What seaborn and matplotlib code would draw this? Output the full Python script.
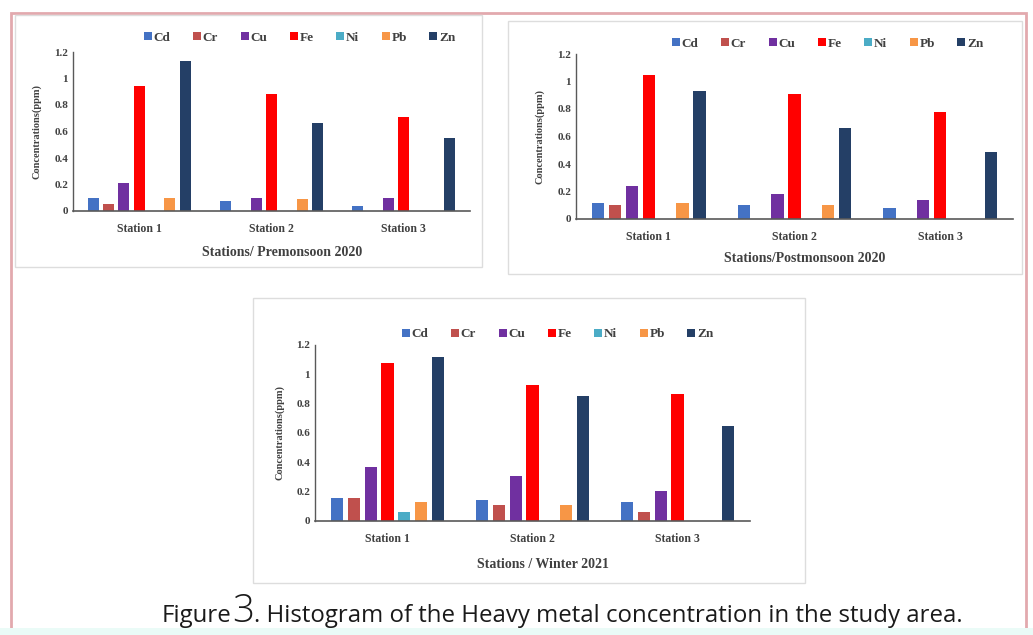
import numpy as np
import pandas as pd
import matplotlib
matplotlib.use("Agg")
import matplotlib.pyplot as plt
from matplotlib.patches import Rectangle
from matplotlib.ticker import FuncFormatter
import seaborn as sns

# data
stations = ["Station 1", "Station 2", "Station 3"]
metals = ["Cd", "Cr", "Cu", "Fe", "Ni", "Pb", "Zn"]
metal_colors = ["#4472C4", "#C0504D", "#7030A0", "#FF0000", "#4BACC6", "#F79646", "#243F66"]

# one row per metal, one column per station
premonsoon_2020 = [
    [0.10, 0.073, 0.038],   # Cd
    [0.053, 0.0, 0.0],      # Cr
    [0.215, 0.10, 0.10],    # Cu
    [0.94, 0.88, 0.71],     # Fe
    [0.0, 0.0, 0.0],        # Ni
    [0.10, 0.093, 0.0],     # Pb
    [1.13, 0.665, 0.553],   # Zn
]
postmonsoon_2020 = [
    [0.117, 0.10, 0.078],
    [0.10, 0.0, 0.0],
    [0.238, 0.18, 0.138],
    [1.05, 0.91, 0.777],
    [0.0, 0.0, 0.0],
    [0.117, 0.10, 0.0],
    [0.934, 0.665, 0.49],
]
winter_2021 = [
    [0.159, 0.146, 0.128],
    [0.159, 0.107, 0.059],
    [0.369, 0.307, 0.207],
    [1.08, 0.93, 0.865],
    [0.059, 0.0, 0.0],
    [0.128, 0.107, 0.0],
    [1.12, 0.85, 0.645],
]
y_ticks = [0, 0.2, 0.4, 0.6, 0.8, 1.0, 1.2]

W, H = 1033, 635
SERIF = "Liberation Serif"
GREY = "#404040"


def long_frame(values):
    rows = []
    for metal, vals in zip(metals, values):
        for st, v in zip(stations, vals):
            rows.append({"Station": st, "Metal": metal, "Conc": v})
    return pd.DataFrame(rows)


def px_axes(fig, x0, y0, x1, y1):
    # pixel box (top-left origin) -> figure fraction axes
    return fig.add_axes([x0 / W, 1 - y1 / H, (x1 - x0) / W, (y1 - y0) / H])


def px_box(fig, x0, y0, x1, y1, color, lw=1.0):
    fig.patches.append(Rectangle((x0 / W, 1 - y1 / H), (x1 - x0) / W, (y1 - y0) / H,
                                 transform=fig.transFigure, fill=False,
                                 edgecolor=color, linewidth=lw))


def draw_panel(fig, values, box, xlabel, ylab_x, xlab_y, leg_xy):
    ax = px_axes(fig, *box)
    df = long_frame(values)
    sns.barplot(data=df, x="Station", y="Conc", hue="Metal", hue_order=metals,
                order=stations, palette=metal_colors, saturation=1, width=0.81,
                gap=0.27, linewidth=0, errorbar=None, legend=False, ax=ax)
    ax.set_ylim(0, 1.2)
    ax.set_yticks(y_ticks)
    ax.yaxis.set_major_formatter(FuncFormatter(lambda v, p: f"{v:g}"))
    ax.tick_params(axis="both", length=0, labelsize=8, colors=GREY)
    ax.tick_params(axis="x", pad=9, labelsize=8.5)
    for lab in ax.get_xticklabels() + ax.get_yticklabels():
        lab.set_fontfamily(SERIF)
        lab.set_fontweight("bold")
    ax.set_xlabel("")
    ax.set_ylabel("")
    for side in ["top", "right"]:
        ax.spines[side].set_visible(False)
    ax.spines["left"].set_color("#595959")
    ax.spines["bottom"].set_color("#595959")
    ax.spines["left"].set_linewidth(1.0)
    ax.spines["bottom"].set_linewidth(1.2)
    ax.set_facecolor("none")

    x0, y0, x1, y1 = box
    fig.text(ylab_x / W, 1 - (y0 + y1) / 2 / H, "Concentrations(ppm)", rotation=90,
             ha="center", va="center", fontsize=7.5, fontfamily=SERIF,
             fontweight="bold", color=GREY)
    fig.text((x0 + x1) / 2 / W + 0.01, 1 - xlab_y / H, xlabel, ha="center", va="center",
             fontsize=10, fontfamily=SERIF, fontweight="bold", color=GREY)

    handles = [plt.Line2D([], [], marker="s", linestyle="none", markersize=6,
                          markerfacecolor=c, markeredgewidth=0) for c in metal_colors]
    fig.legend(handles, metals, loc="center", ncol=7, frameon=False,
               bbox_to_anchor=(leg_xy[0] / W, 1 - leg_xy[1] / H),
               prop={"family": SERIF, "weight": "bold", "size": 9.5},
               labelcolor=GREY, handletextpad=0.05, columnspacing=1.6,
               handlelength=0.8)
    return ax


sns.set_theme(style="white")
fig = plt.figure(figsize=(W / 100, H / 100), dpi=100)
fig.patch.set_facecolor("white")

# outer frame and panel boxes
px_box(fig, 11, 13, 1026, 640, "#E2A9AE", lw=2.0)
px_box(fig, 15, 15, 482, 267, "#DDDDDD")
px_box(fig, 508, 21, 1022, 274, "#DDDDDD")
px_box(fig, 253, 298, 805, 583, "#DDDDDD")
fig.patches.append(Rectangle((0, 0), 1, 7 / H, transform=fig.transFigure,
                             facecolor="#EAFBF7", edgecolor="none"))

draw_panel(fig, premonsoon_2020, (73, 52, 470, 211), "Stations/ Premonsoon 2020",
           37, 252, (299, 38))
draw_panel(fig, postmonsoon_2020, (576, 54, 1013, 219), "Stations/Postmonsoon 2020",
           540, 258, (827, 44))
draw_panel(fig, winter_2021, (315, 345, 750, 521), "Stations / Winter 2021",
           280, 565, (557, 334))

# caption, with the enlarged figure number; sized to span the reference width
cap_font = "Open Sans"
cap_y = 1 - 622 / H
base = 15.0
t1 = fig.text(0, cap_y, "Figure", fontsize=base, fontfamily=cap_font, color="#1a1a1a",
              va="baseline", ha="left")
t2 = fig.text(0, cap_y, "3", fontsize=base * 1.6, fontfamily=cap_font, color="#1a1a1a",
              va="baseline", ha="left", fontweight="light")
t3 = fig.text(0, cap_y, ". Histogram of the Heavy metal concentration in the study area.",
              fontsize=base, fontfamily=cap_font, color="#1a1a1a", va="baseline", ha="left")
fig.canvas.draw()
r = fig.canvas.get_renderer()
total = sum(t.get_window_extent(r).width for t in (t1, t2, t3))
scale = 798 / total
t1.set_fontsize(base * scale)
t2.set_fontsize(base * 1.6 * scale)
t3.set_fontsize(base * scale)
fig.canvas.draw()
w1 = t1.get_window_extent(r).width / W
w2 = t2.get_window_extent(r).width / W
start = 162 / W
t1.set_x(start)
t2.set_x(start + w1)
t3.set_x(start + w1 + w2)

fig.savefig("out.png", dpi=100)
